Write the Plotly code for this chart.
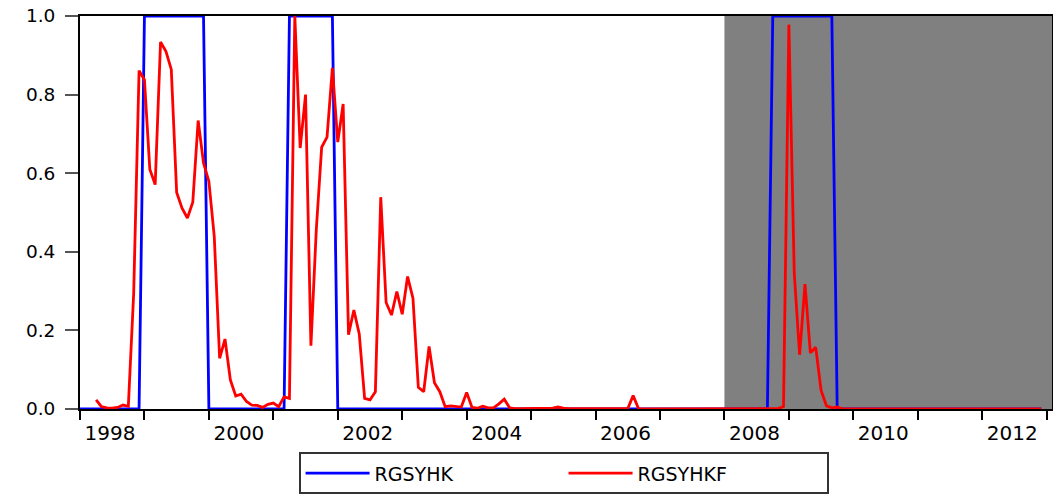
import plotly.graph_objects as go

# Monthly observations 1998M01 .. 2012M12
start_year = 1998
n_months = 180

# RGSYHK: regime indicator (1 during these month index ranges, inclusive)
rgsyhk_on_ranges = [(12, 23), (39, 47), (129, 140)]

# RGSYHKF: filtered probability (first 3 months missing), k0..k129
rgsyhkf_head = [
    None, None, None,
    0.023, 0.006, 0.003, 0.002, 0.004, 0.010, 0.007, 0.295, 0.861, 0.838,   # k3..k12
    0.610, 0.571, 0.934, 0.910, 0.864, 0.551, 0.511, 0.486, 0.526, 0.734,   # k13..k22
    0.626, 0.579, 0.439, 0.129, 0.178, 0.074, 0.033, 0.038, 0.019, 0.010,   # k23..k32
    0.009, 0.004, 0.012, 0.015, 0.006, 0.031, 0.027, 1.000, 0.664, 0.800,   # k33..k42
    0.161, 0.456, 0.666, 0.692, 0.868, 0.679, 0.776, 0.189, 0.252, 0.191,   # k43..k52
    0.027, 0.023, 0.044, 0.539, 0.271, 0.239, 0.299, 0.241, 0.337, 0.282,   # k53..k62
    0.055, 0.044, 0.159, 0.067, 0.044, 0.006, 0.008, 0.006, 0.005, 0.042,   # k63..k72
    0.004, 0.002, 0.007, 0.003, 0.003, 0.013, 0.025, 0.003, 0.001, 0.001,   # k73..k82
    0.001, 0.001, 0.001, 0.001, 0.001, 0.002, 0.005, 0.002, 0.001, 0.001,   # k83..k92
    0.001, 0.001, 0.001, 0.001, 0.001, 0.001, 0.001, 0.001, 0.001, 0.001,   # k93..k102
    0.034, 0.001, 0.000, 0.000, 0.000, 0.000, 0.000, 0.000, 0.000, 0.000,   # k103..k112
    0.000, 0.000, 0.000, 0.000, 0.000, 0.000, 0.000, 0.000, 0.000, 0.000,   # k113..k122
    0.000, 0.000, 0.000, 0.000, 0.000, 0.000, 0.000,                        # k123..k129
]
# k130..k141
rgsyhkf_crisis = [0.001, 0.006, 0.978, 0.346, 0.138, 0.318, 0.143, 0.157, 0.047, 0.008, 0.003, 0.005]
# k142..k179
rgsyhkf_tail = [0.000] * 38

rgsyhkf_vals = rgsyhkf_head + rgsyhkf_crisis + rgsyhkf_tail

rgsyhk_vals = [0] * n_months
for a, b in rgsyhk_on_ranges:
    for k in range(a, b + 1):
        rgsyhk_vals[k] = 1

dates = [start_year + k / 12 for k in range(n_months)]

shade_start = 2008.0
x_range = [1998.0, 2013.083]
y_ticks = [0.0, 0.2, 0.4, 0.6, 0.8, 1.0]
y_ticktext = ["0.0", "0.2", "0.4", "0.6", "0.8", "1.0"]
x_tickvals = list(range(1998, 2014))
x_ticktext = [str(y) if y % 2 == 0 and y < 2013 else "" for y in x_tickvals]

fig = go.Figure()
fig.add_trace(go.Scatter(x=dates, y=rgsyhk_vals, mode="lines", name="RGSYHK",
                         line=dict(color="#0000FF", width=2.8)))
fig.add_trace(go.Scatter(x=dates, y=rgsyhkf_vals, mode="lines", name="RGSYHKF",
                         line=dict(color="#FF0000", width=2.8)))

fig.add_shape(type="rect", xref="x", yref="y domain", x0=shade_start, x1=x_range[1],
              y0=0, y1=1, fillcolor="#808080", line=dict(width=0), layer="below")

font_family = "DejaVu Sans, Arial, sans-serif"
fig.update_layout(
    width=1053, height=494,
    margin=dict(l=80, r=1, t=16, b=85, autoexpand=False),
    plot_bgcolor="white", paper_bgcolor="white",
    font=dict(family=font_family, size=19, color="black"),
    showlegend=True,
    legend=dict(orientation="h", x=0.4975, xanchor="center", y=-0.11, yanchor="top",
                bordercolor="#333333", borderwidth=2, bgcolor="white",
                font=dict(size=19, family=font_family),
                entrywidth=184, itemwidth=64, tracegroupgap=0),
    xaxis=dict(range=x_range, tickvals=x_tickvals, ticktext=x_ticktext,
               ticks="outside", ticklen=9, tickwidth=1.5, tickcolor="black",
               showline=True, linecolor="black", linewidth=2, mirror=True,
               showgrid=False, zeroline=False, ticklabelshift=30,
               ticklabelstandoff=-4, ticklabeloverflow="allow",
               automargin=False, tickfont=dict(size=20)),
    yaxis=dict(range=[0, 1], tickvals=y_ticks, ticktext=y_ticktext,
               ticks="outside", ticklen=13, tickwidth=1.5, tickcolor="#555555",
               showline=True, linecolor="black", linewidth=2, mirror=True,
               showgrid=False, zeroline=False, ticklabelstandoff=6,
               ticklabeloverflow="allow",
               automargin=False, tickfont=dict(size=18.5)),
)

# remove the browser's default 8px page margin so the figure fills the window
fig.write_html("out.html", config={"displayModeBar": False},
               post_script="document.body.style.margin='0';")
